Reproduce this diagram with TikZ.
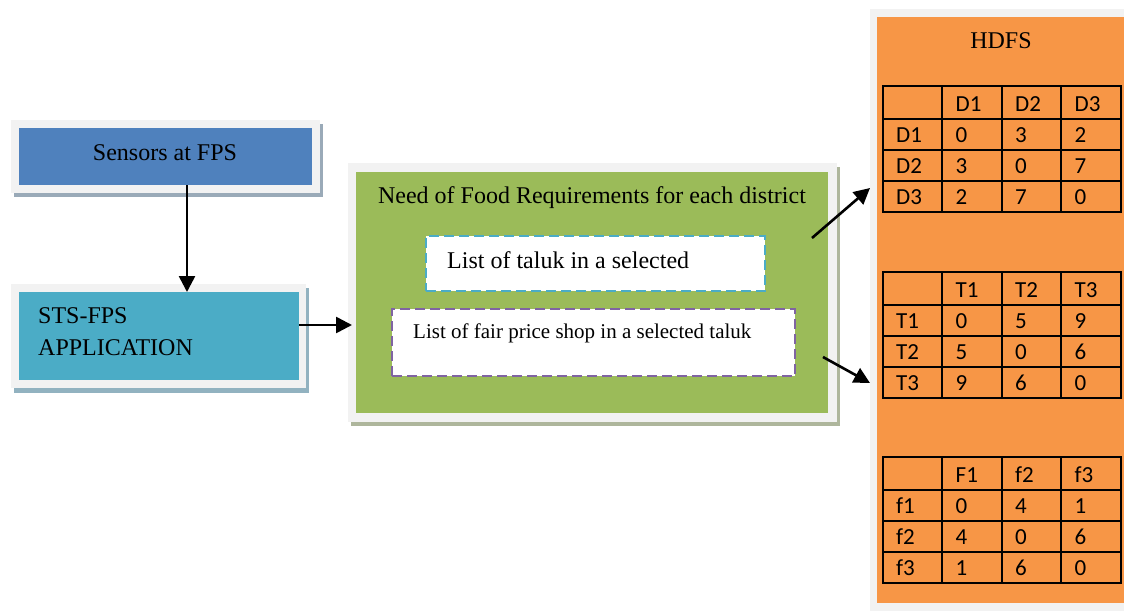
\documentclass[tikz,border=0pt]{standalone}
\usepackage{fontspec}
\setmainfont{Liberation Serif}
\newfontfamily\tabfont{Carlito}
\usetikzlibrary{arrows.meta}

\definecolor{framegray}{HTML}{F2F2F2}
\definecolor{shadeblue}{HTML}{9AAAB8}
\definecolor{shadeteal}{HTML}{92B2C0}
\definecolor{shadegreen}{HTML}{AEB69C}
\definecolor{sensblue}{HTML}{4F81BD}
\definecolor{appteal}{HTML}{4BACC6}
\definecolor{needgreen}{HTML}{9BBB59}
\definecolor{hdfsorange}{HTML}{F79646}
\definecolor{dashcyan}{HTML}{4BACC6}
\definecolor{dashpurple}{HTML}{8064A2}

% distance table: #1 name, #2 top edge, #3 cells row/col/text
\newcommand\gridtable[3]{%
  \foreach \yy in {0,33,64,95,126}
    \draw[tabline] (883,#2+\yy) -- (1121,#2+\yy);
  \foreach \xx in {883,942,1002,1061,1121}
    \draw[tabline] (\xx,#2) -- (\xx,#2+126);
  \foreach \rr/\cc/\txt in {#3}
    \node[cell] (#1-\rr-\cc) at ({883+59.5*\cc+13},{#2+25+31*\rr}) {\txt};
}

\begin{document}
\begin{tikzpicture}[x=1pt,y=-1pt,
  box/.style={inner sep=0pt, outer sep=0pt, anchor=north west},
  lbl/.style={inner sep=0pt, font=\fontsize{24}{28}\selectfont},
  smalllbl/.style={inner sep=0pt, font=\fontsize{21}{25}\selectfont},
  dashbox/.style={box, fill=white, line width=2.6pt, dash pattern=on 10pt off 5pt},
  arr/.style={line width=2.6pt, -{Triangle[length=16pt,width=16pt]}},
  tabline/.style={line width=2.6pt, line cap=rect},
  cell/.style={inner sep=0pt, anchor=base west, font=\tabfont\fontsize{23}{27}\selectfont}]
\useasboundingbox (0,0) rectangle (1124,611);

% Sensors box
\fill[shadeblue] (14,124) rectangle (323,197);
\fill[framegray] (11,120) rectangle (320,193);
\node[box, fill=sensblue, minimum width=293pt, minimum height=57pt] (sens) at (19,128) {};
\node[lbl, anchor=base] (senstext) at (165,160) {Sensors at FPS};

% STS-FPS application box
\fill[shadeteal] (14,288) rectangle (309,393);
\fill[framegray] (11,284) rectangle (306,388);
\node[box, fill=appteal, minimum width=280pt, minimum height=88pt] (sts) at (19,292) {};
\node[lbl, anchor=base west] (ststext1) at (38,323) {STS-FPS};
\node[lbl, anchor=base west] (ststext2) at (38,355) {APPLICATION};

% Food requirement box
\fill[shadegreen] (351,167) rectangle (840,426);
\fill[framegray] (348,163) rectangle (837,422);
\node[box, fill=needgreen, minimum width=472pt, minimum height=241pt] (need) at (356,172) {};
\node[lbl, anchor=base] (needtext) at (592,203) {Need of Food Requirements for each district};
\node[dashbox, draw=dashcyan, minimum width=339pt, minimum height=55pt] (taluk) at (426,236) {};
\node[lbl, anchor=base west] (taluktext) at (447,268) {List of taluk in a selected};
\node[dashbox, draw=dashpurple, minimum width=403pt, minimum height=67pt] (shop) at (392,309) {};
\node[smalllbl, anchor=base west] (shoptext) at (413,338) {List of fair price shop in a selected taluk};

% HDFS store
\fill[framegray] (870,9) rectangle (1124,611);
\node[box, fill=hdfsorange, minimum width=247pt, minimum height=586pt] (hdfs) at (877,17) {};
\node[lbl, anchor=base] (hdfstext) at (1001,48) {HDFS};

\gridtable{dist}{86}{0/1/D1,0/2/D2,0/3/D3,
  1/0/D1,1/1/0,1/2/3,1/3/2,
  2/0/D2,2/1/3,2/2/0,2/3/7,
  3/0/D3,3/1/2,3/2/7,3/3/0}
\gridtable{tal}{272}{0/1/T1,0/2/T2,0/3/T3,
  1/0/T1,1/1/0,1/2/5,1/3/9,
  2/0/T2,2/1/5,2/2/0,2/3/6,
  3/0/T3,3/1/9,3/2/6,3/3/0}
\gridtable{fps}{457}{0/1/F1,0/2/f2,0/3/f3,
  1/0/f1,1/1/0,1/2/4,1/3/1,
  2/0/f2,2/1/4,2/2/0,2/3/6,
  3/0/f3,3/1/1,3/2/6,3/3/0}

% connectors
\coordinate (downx) at (187,0);
\coordinate (needin) at (352,325);
\coordinate (up1) at (812,238);
\coordinate (up1end) at (870,188);
\coordinate (dn1) at (823,357);
\coordinate (dn1end) at (870,383);
\draw[arr] (sens.south -| downx) -- (sts.north -| downx);
\draw[arr] (sts.east |- needin) -- (needin);
\draw[arr] (up1) -- (up1end);
\draw[arr] (dn1) -- (dn1end);
\end{tikzpicture}
\end{document}
